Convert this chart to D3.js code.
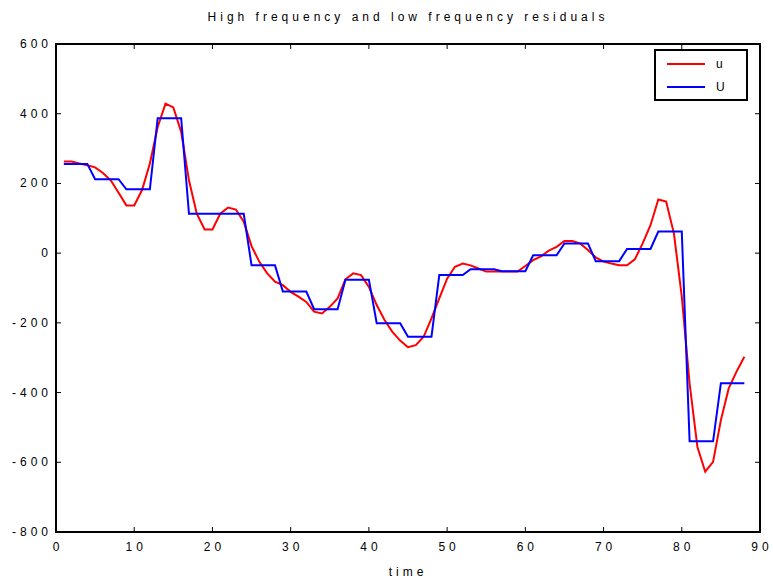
<!DOCTYPE html><html><head><script src="https://cdn.jsdelivr.net/npm/d3@7"></script>
<style>body{margin:0;background:#fff}text{font-family:"Liberation Sans",Arial,sans-serif;letter-spacing:4px}</style></head><body>
<svg id="c" width="773" height="585"></svg>
<script>
const uVals=[263,263,257,252,246,230,209,173,137,137,181,257,362,429,418,348,209,113,68,68,113,131,125,90,20,-25,-58,-82,-92,-111,-125,-140,-168,-173,-154,-130,-75,-58,-63,-97,-149,-192,-226,-251,-270,-264,-240,-187,-130,-73,-39,-30,-35,-44,-53,-53,-53,-53,-53,-37,-20,-9,7,18,35,35,28,9,-12,-24,-30,-35,-35,-18,28,80,154,148,56,-125,-374,-556,-627,-599,-479,-388,-340,-297];
const UBlocks=[256,212,183,387,113,113,-35,-110,-161,-76,-201,-240,-63,-46,-52,-6,28,-23,12,62,-540,-373];
const UVals=[];UBlocks.forEach(v=>{for(let i=0;i<4;i++)UVals.push(v)});
const xTicks=[0,10,20,30,40,50,60,70,80,90];
const yTicks=[-800,-600,-400,-200,0,200,400,600];
const svg=d3.select("#c");
const L=56,R=760,T=44,B=532;
const x=d3.scaleLinear().domain([0,90]).range([L,R]);
const y=d3.scaleLinear().domain([-800,600]).range([B,T]);
const g=svg.append("g");
g.append("rect").attr("x",L).attr("y",T).attr("width",R-L).attr("height",B-T).attr("fill","none").attr("stroke","#000").attr("stroke-width",2);
xTicks.forEach(t=>{
 g.append("line").attr("x1",x(t)).attr("x2",x(t)).attr("y1",B).attr("y2",B-5).attr("stroke","#000");
 g.append("line").attr("x1",x(t)).attr("x2",x(t)).attr("y1",T).attr("y2",T+5).attr("stroke","#000");
 g.append("text").attr("x",x(t)+2).attr("y",B+19).attr("text-anchor","middle").attr("font-size",12).text(t);
});
yTicks.forEach(t=>{
 g.append("line").attr("x1",L).attr("x2",L+5).attr("y1",y(t)).attr("y2",y(t)).attr("stroke","#000");
 g.append("line").attr("x1",R).attr("x2",R-5).attr("y1",y(t)).attr("y2",y(t)).attr("stroke","#000");
 g.append("text").attr("x",L-4).attr("y",y(t)+4).attr("text-anchor","end").attr("font-size",12).text(t);
});
const line=d3.line().x((d,i)=>x(i+1)).y(d=>y(d));
g.append("path").datum(uVals).attr("d",line).attr("fill","none").attr("stroke","#f00").attr("stroke-width",2);
g.append("path").datum(UVals).attr("d",line).attr("fill","none").attr("stroke","#00f").attr("stroke-width",2);
svg.append("text").attr("x",(L+R)/2).attr("y",21).attr("text-anchor","middle").attr("font-size",12).text("High frequency and low frequency residuals");
svg.append("text").attr("x",(L+R)/2).attr("y",576).attr("text-anchor","middle").attr("font-size",12).text("time");
const lg=svg.append("g");
lg.append("rect").attr("x",655).attr("y",50).attr("width",92).attr("height",50).attr("fill","#fff").attr("stroke","#000").attr("stroke-width",2);
[["u","#f00",64],["U","#00f",87]].forEach(([n,c,yy])=>{
 lg.append("line").attr("x1",667).attr("x2",705).attr("y1",yy).attr("y2",yy).attr("stroke",c).attr("stroke-width",2);
 lg.append("text").attr("x",716).attr("y",yy+4).attr("font-size",12).text(n);
});
</script></body></html>
